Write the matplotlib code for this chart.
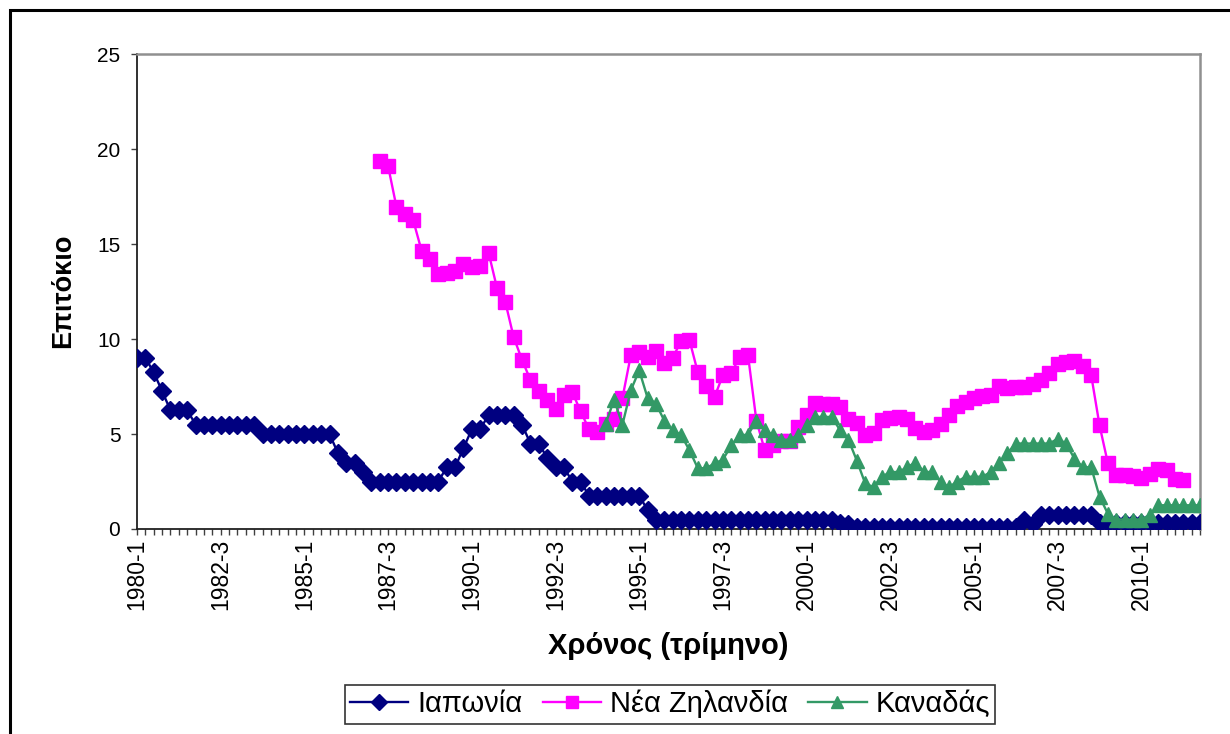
import numpy as np
import matplotlib
matplotlib.use("Agg")
import matplotlib.pyplot as plt
from matplotlib.patches import Rectangle

plt.rcParams['font.family'] = ['Liberation Sans', 'DejaVu Sans']

# ---- data (quarterly, 1980-1 .. 2011-4) ----
quarters = [f"{y}-{q}" for y in range(1980, 2012) for q in range(1, 5)]

japan = [
    9.0, 9.0, 8.25, 7.25, 6.25, 6.25, 6.25, 5.5, 5.5, 5.5,
    5.5, 5.5, 5.5, 5.5, 5.5, 5.0, 5.0, 5.0, 5.0, 5.0,
    5.0, 5.0, 5.0, 5.0, 4.0, 3.5, 3.5, 3.0, 2.5, 2.5,
    2.5, 2.5, 2.5, 2.5, 2.5, 2.5, 2.5, 3.25, 3.25, 4.25,
    5.25, 5.25, 6.0, 6.0, 6.0, 6.0, 5.5, 4.5, 4.5, 3.75,
    3.25, 3.25, 2.5, 2.5, 1.75, 1.75, 1.75, 1.75, 1.75, 1.75,
    1.75, 1.0, 0.5, 0.5, 0.5, 0.5, 0.5, 0.5, 0.5, 0.5,
    0.5, 0.5, 0.5, 0.5, 0.5, 0.5, 0.5, 0.5, 0.5, 0.5,
    0.5, 0.5, 0.5, 0.5, 0.3, 0.25, 0.1, 0.1, 0.1, 0.1,
    0.1, 0.1, 0.1, 0.1, 0.1, 0.1, 0.1, 0.1, 0.1, 0.1,
    0.1, 0.1, 0.1, 0.1, 0.1, 0.1, 0.45, 0.25, 0.75, 0.75,
    0.75, 0.75, 0.75, 0.75, 0.75, 0.3, 0.3, 0.3, 0.3, 0.3,
    0.3, 0.3, 0.3, 0.3, 0.3, 0.3, 0.3, 0.3,
]

nan = np.nan
new_zealand = [nan] * 29 + [
    19.35, 19.1, 16.95, 16.6, 16.25, 14.65, 14.2, 13.4, 13.5, 13.6,
    13.95, 13.8, 13.85, 14.55, 12.7, 11.95, 10.1, 8.9, 7.85, 7.25,
    6.8, 6.3, 7.05, 7.2, 6.2, 5.25, 5.1, 5.55, 5.8, 6.9,
    9.15, 9.3, 9.05, 9.35, 8.75, 9.0, 9.9, 9.95, 8.25, 7.55,
    6.95, 8.1, 8.2, 9.05, 9.15, 5.7, 4.15, 4.4, 4.65, 4.65,
    5.35, 6.0, 6.65, 6.6, 6.6, 6.4, 5.8, 5.6, 4.95, 5.05,
    5.75, 5.85, 5.9, 5.8, 5.3, 5.1, 5.2, 5.55, 6.0, 6.5,
    6.7, 6.9, 7.0, 7.05, 7.55, 7.4, 7.45, 7.5, 7.65, 7.85,
    8.2, 8.7, 8.8, 8.85, 8.6, 8.1, 5.45, 3.45, 2.85, 2.85,
    2.8, 2.7, 2.9, 3.15, 3.1, 2.65, 2.6,
] + [nan] * 2

canada = [nan] * 56 + [
    5.55, 6.8, 5.5, 7.3, 8.35, 6.9, 6.6, 5.7, 5.2, 4.95,
    4.15, 3.2, 3.2, 3.45, 3.65, 4.4, 4.95, 4.95, 5.7, 5.2,
    4.95, 4.7, 4.7, 4.95, 5.45, 5.9, 5.9, 5.9, 5.2, 4.7,
    3.6, 2.4, 2.2, 2.75, 3.0, 3.0, 3.25, 3.5, 3.0, 3.0,
    2.5, 2.2, 2.5, 2.75, 2.75, 2.75, 3.0, 3.5, 4.0, 4.5,
    4.5, 4.5, 4.5, 4.5, 4.75, 4.5, 3.7, 3.25, 3.25, 1.7,
    0.8, 0.5, 0.5, 0.5, 0.5, 0.75, 1.25, 1.25, 1.25, 1.25,
    1.25, 1.25,
]

series_names = ['Ιαπωνία', 'Νέα Ζηλανδία', 'Καναδάς']
y_ticks = [0, 5, 10, 15, 20, 25]

# ---- figure ----
W, H = 1230, 734
fig = plt.figure(figsize=(W / 100, H / 100), dpi=100)
ax = fig.add_axes([137 / W, 1 - 529 / H, (1200 - 137) / W, (529 - 54) / H])

x = np.arange(len(quarters))
ax.plot(x, japan, color='#000080', marker='D', ms=9, lw=1.7,
        mec='#000080', mfc='#000080', label=series_names[0], zorder=3)
ax.plot(x, new_zealand, color='#FF00FF', marker='s', ms=10, lw=1.7,
        mec='#FF00FF', mfc='#FF00FF', label=series_names[1], zorder=4)
ax.plot(x, canada, color='#339966', marker='^', ms=10.5, lw=1.7,
        mec='#339966', mfc='#339966', label=series_names[2], zorder=5)

ax.set_xlim(0, len(quarters) - 1)
ax.set_ylim(0, 25)
ax.set_yticks(y_ticks)
ax.set_yticklabels([str(v) for v in y_ticks], fontsize=15)
ax.set_xticks(x)
ax.set_xticklabels([q if i % 10 == 0 else '' for i, q in enumerate(quarters)],
                   rotation=90, fontsize=16.5)
ax.tick_params(axis='x', direction='out', length=4, width=1, color='#404040', pad=3)
ax.tick_params(axis='y', direction='out', length=4, width=1, color='#404040', pad=8)

for s in ['top', 'right']:
    ax.spines[s].set_color('#909090')
    ax.spines[s].set_linewidth(1.8)
for s in ['left', 'bottom']:
    ax.spines[s].set_color('#202020')
    ax.spines[s].set_linewidth(1.3)

fig.text(668 / W, 1 - 646 / H, 'Χρόνος (τρίμηνο)', ha='center', va='center',
         fontsize=21, fontweight='bold')
fig.text(63 / W, 1 - 291 / H, 'Επιτόκιο', ha='center', va='center',
         rotation=90, fontsize=19.5, fontweight='bold')

leg = fig.legend(loc='center', bbox_to_anchor=(670 / W, 1 - 704 / H), ncol=3,
                 fontsize=21, frameon=True, fancybox=False, edgecolor='black',
                 handlelength=2.0, handletextpad=0.3, columnspacing=0.7,
                 borderpad=0.18, borderaxespad=0.0, markerscale=0.85)
leg.get_frame().set_linewidth(1.2)

fig.patches.append(Rectangle((10 / W, -0.5), 2.0, 1 - 10 / H + 0.5,
                             transform=fig.transFigure, fill=False,
                             lw=2.2, ec='black'))

fig.savefig('out.png', dpi=100)
